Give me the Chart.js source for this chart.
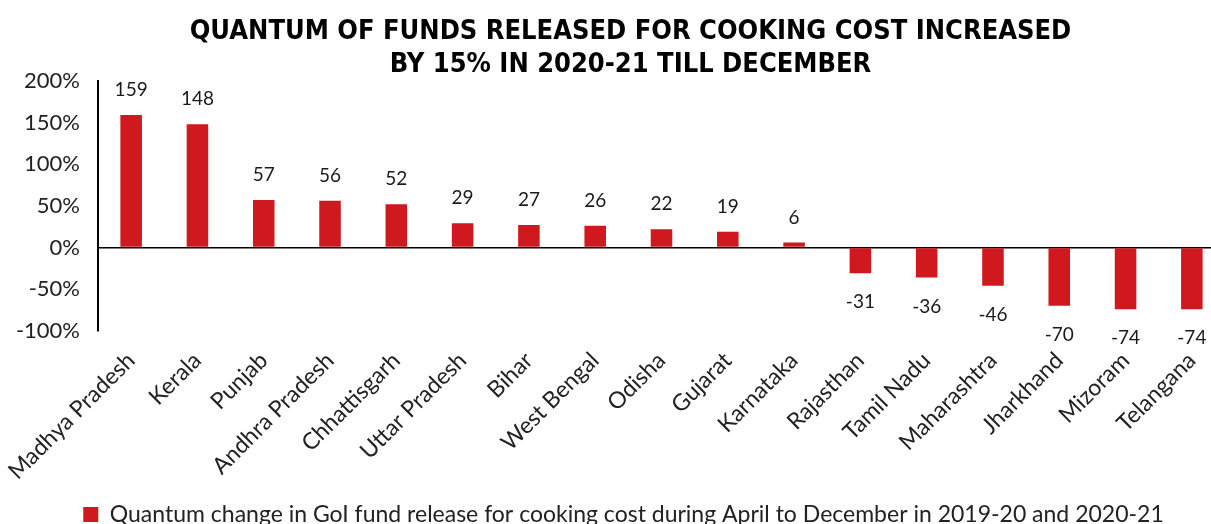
<!DOCTYPE html>
<html lang="en">
<head>
  <meta charset="UTF-8">
  <title>Cooking cost fund release</title>
  <style>
    body {
      margin: 0;
      padding: 0;
      background-color: #fff;
      overflow: hidden;
    }

    /* Chart box is a bit wider than the window, last bar sits near the edge */
    .chart-box {
      position: relative;
      width: 1225px;
      height: 524px;
    }
  </style>
  <script src="https://cdn.jsdelivr.net/npm/chart.js"></script>
</head>
<body>
  <div class="chart-box">
    <canvas id="fund-chart"></canvas>
  </div>

  <script>
    const states = ['Madhya Pradesh', 'Kerala', 'Punjab', 'Andhra Pradesh', 'Chhattisgarh', 'Uttar Pradesh',
      'Bihar', 'West Bengal', 'Odisha', 'Gujarat', 'Karnataka', 'Rajasthan', 'Tamil Nadu',
      'Maharashtra', 'Jharkhand', 'Mizoram', 'Telangana'];
    const changes = [159, 148, 57, 56, 52, 29, 27, 26, 22, 19, 6, -31, -36, -46, -70, -74, -74];
    const seriesName = 'Quantum change in GoI fund release for cooking cost during April to December in 2019-20 and 2020-21';
    const titleLines = ['QUANTUM OF FUNDS RELEASED FOR COOKING COST INCREASED', 'BY 15% IN 2020-21 TILL DECEMBER'];

    const barRed = '#d0191f';
    const textFont = 'Lato, "Open Sans", sans-serif';

    // numbers above positive bars, below negative ones
    const valueLabels = {
      id: 'valueLabels',
      afterDatasetsDraw(chart) {
        const ctx = chart.ctx;
        const meta = chart.getDatasetMeta(0);
        ctx.save();
        ctx.font = '19px ' + textFont;
        ctx.fillStyle = '#1a1a1a';
        ctx.textAlign = 'center';
        ctx.textBaseline = 'middle';
        meta.data.forEach(function (bar, i) {
          const v = changes[i];
          const y = v >= 0 ? bar.y - 25 : bar.y + 29;
          ctx.fillText(String(v), bar.x, y);
        });
        ctx.restore();
      }
    };

    // title sits a little right of centre, legend drops to the bottom edge
    const shiftBoxes = {
      id: 'shiftBoxes',
      afterLayout(chart) {
        const t = chart.titleBlock;
        t.left += 14;
        t.right += 14;
        const lg = chart.legend;
        lg.left += 7;
        lg.right += 7;
        lg.top += 12;
        lg.bottom += 12;
      }
    };

    const ctx = document.getElementById('fund-chart').getContext('2d');
    new Chart(ctx, {
      type: 'bar',
      data: {
        labels: states,
        datasets: [{
          label: seriesName,
          data: changes,
          backgroundColor: barRed,
          barPercentage: 0.65,
          categoryPercentage: 0.5
        }]
      },
      options: {
        responsive: true,
        maintainAspectRatio: false,
        animation: false,
        layout: {
          padding: { left: 8, right: 0, top: 0, bottom: 0 }
        },
        plugins: {
          title: {
            display: true,
            text: titleLines,
            color: '#000',
            font: { family: '"Liberation Sans Narrow", "DejaVu Sans Condensed", sans-serif', size: 27, weight: 'bold', lineHeight: 1.2 },
            padding: { top: 16, bottom: 0 }
          },
          legend: {
            position: 'bottom',
            labels: {
              color: '#222',
              boxWidth: 15,
              boxHeight: 15,
              padding: 2,
              font: { family: textFont, size: 23 }
            }
          },
          tooltip: { enabled: false }
        },
        scales: {
          x: {
            grid: { display: false },
            border: { display: false },
            ticks: {
              color: '#222',
              font: { family: textFont, size: 23 },
              minRotation: 45,
              maxRotation: 45,
              autoSkip: false,
              padding: 8
            },
            afterFit: function (scale) { scale.height -= 4; }
          },
          y: {
            min: -100,
            max: 200,
            grid: {
              drawTicks: false,
              color: function (c) { return c.tick && c.tick.value === 0 ? '#000' : 'rgba(0,0,0,0)'; },
              lineWidth: 1.6
            },
            border: { display: true, color: '#000', width: 2 },
            ticks: {
              stepSize: 50,
              color: '#222',
              padding: 18,
              font: { family: textFont, size: 22 },
              callback: function (v) { return v + '%'; }
            },
            afterFit: function (scale) { scale.width = 90; }
          }
        }
      },
      plugins: [valueLabels, shiftBoxes]
    });
  </script>
</body>
</html>
